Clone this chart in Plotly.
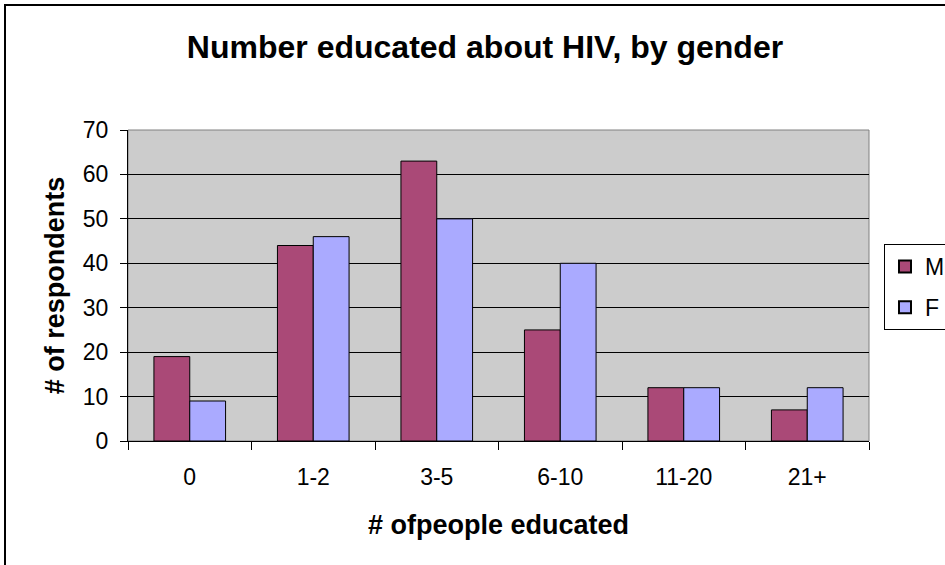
import plotly.graph_objects as go

# Survey counts: number of people each respondent educated about HIV
categories = ["0", "1-2", "3-5", "6-10", "11-20", "21+"]
male = [19, 44, 63, 25, 12, 7]
female = [9, 46, 50, 40, 12, 12]
y_ticks = [0, 10, 20, 30, 40, 50, 60, 70]

FONT = "Liberation Sans, Arial, sans-serif"

# plot-area geometry in pixels
W, H = 945, 565
L, R, T, B = 128, 76, 130, 124
pw, ph = W - L - R, H - T - B


def px_x(x):
    return (x - L) / pw


def px_y(y):
    return 1 - (y - T) / ph


fig = go.Figure()
fig.add_trace(go.Bar(
    name="M", x=categories, y=male, legendgroup="m",
    marker=dict(color="#AA4977", line=dict(color="black", width=1)),
))
fig.add_trace(go.Bar(
    name="F", x=categories, y=female, legendgroup="f",
    marker=dict(color="#AAAAFF", line=dict(color="black", width=1)),
))

fig.update_layout(
    width=W, height=H,
    margin=dict(l=L, r=R, t=T, b=B, autoexpand=False),
    paper_bgcolor="white",
    plot_bgcolor="#CCCCCC",
    barmode="group",
    bargap=0.42,
    bargroupgap=0,
    font=dict(family=FONT, size=23, color="black"),
    title=dict(
        text="<b>Number educated about HIV, by gender</b>",
        x=485 / W, xref="container", xanchor="center",
        y=1 - 47 / H, yanchor="middle",
        font=dict(family=FONT, size=32, color="black"),
    ),
    legend=dict(
        x=px_x(884), y=px_y(244), xanchor="left", yanchor="top",
        bordercolor="black", borderwidth=1, bgcolor="white",
        font=dict(family=FONT, size=23, color="black"),
        tracegroupgap=8, itemsizing="constant",
    ),
    xaxis=dict(
        type="category",
        showline=True, linecolor="black", linewidth=1,
        ticks="outside", ticklen=8, tickcolor="black", tickson="boundaries",
        ticklabelstandoff=15,
        showgrid=False,
        title=dict(text="<b># ofpeople educated</b>", standoff=26,
                   font=dict(family=FONT, size=27)),
        tickfont=dict(size=23),
    ),
    yaxis=dict(
        range=[0, 70],
        tickvals=y_ticks,
        showline=True, linecolor="black", linewidth=1,
        ticks="outside", ticklen=7, tickcolor="black",
        ticklabelstandoff=7,
        showgrid=True, gridcolor="black", gridwidth=1,
        zeroline=False,
        title=dict(text="<b># of respondents</b>", standoff=10,
                   font=dict(family=FONT, size=27)),
        tickfont=dict(size=23),
    ),
    shapes=[
        # gray frame around the plotting area
        dict(type="rect", xref="paper", yref="paper", x0=0, x1=1, y0=0, y1=1,
             line=dict(color="#808080", width=1), layer="below"),
        # outer chart border
        dict(type="rect", xref="paper", yref="paper",
             x0=px_x(5), x1=px_x(960), y0=px_y(580), y1=px_y(5),
             line=dict(color="black", width=2), fillcolor="rgba(0,0,0,0)"),
    ],
)

fig.write_html("out.html")
